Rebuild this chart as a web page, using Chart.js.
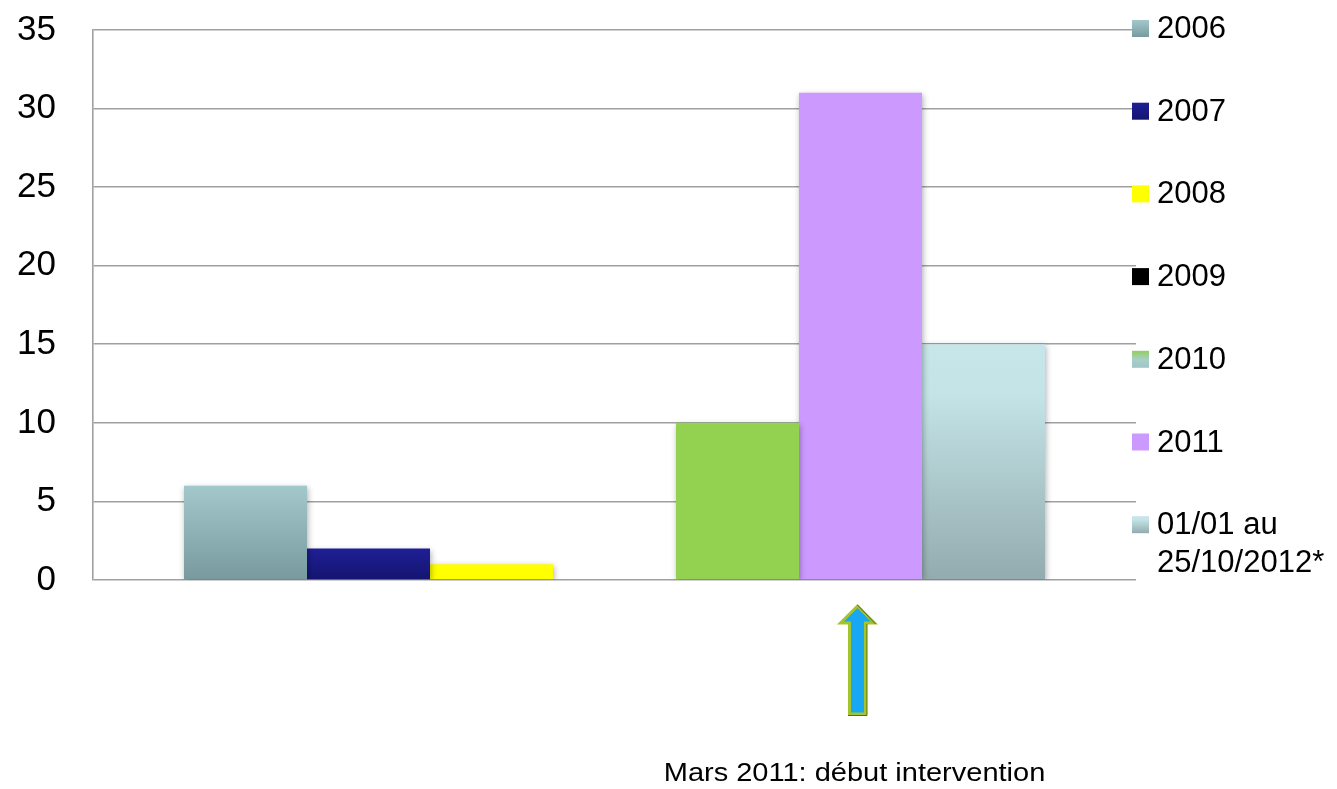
<!DOCTYPE html>
<html>
<head>
<meta charset="utf-8">
<script src="https://cdn.jsdelivr.net/npm/chart.js@4"></script>
<style>
  html, body { margin: 0; padding: 0; background: #ffffff; }
  #wrap { width: 1337px; height: 789px; position: relative; }
</style>
</head>
<body>
<div id="wrap"><canvas id="chart" width="1337" height="789"></canvas></div>
<script>
// ---- data ----
const categories = [''];
const seriesLabels = ['2006', '2007', '2008', '2009', '2010', '2011', ['01/01 au', '25/10/2012*']];
const values2006 = [6];
const values2007 = [2];
const values2008 = [1];
const values2009 = [0];
const values2010 = [10];
const values2011 = [31];
const values2012 = [15];
const yTickValues = [0, 5, 10, 15, 20, 25, 30, 35];
const noteText = 'Mars 2011: début intervention';
const markedSeries = 5; // the arrow points at the 2011 bar

// ---- styles ----
const FONT = '"Liberation Sans", Arial, sans-serif';
const barStops = [
  [[0, '#a3c8cc'], [1, '#789a9e']],
  [[0, '#1f1f96'], [1, '#141470']],
  [[0, '#ffff00'], [1, '#ffff00']],
  [[0, '#000000'], [1, '#000000']],
  [[0, '#93d150'], [1, '#93d150']],
  [[0, '#cc99ff'], [1, '#cc99ff']],
  [[0, '#c6e6e9'], [0.22, '#c3e3e6'], [1, '#93abae']]
];
const swatchStops = barStops.map((s, i) => i === 4
  ? [[0, '#8fd05a'], [0.5, '#a8cfc6'], [1, '#a0c4ca']]
  : s);

function gradient(ctx, top, bottom, stops) {
  if (!(bottom > top)) bottom = top + 1;
  const g = ctx.createLinearGradient(0, top, 0, bottom);
  stops.forEach(([o, c]) => g.addColorStop(o, c));
  return g;
}

function barFill(i) {
  return (c) => {
    const chart = c.chart;
    const y = chart.scales && chart.scales.y;
    if (!chart.chartArea || !y || c.raw === undefined) return barStops[i][0][1];
    const top = y.getPixelForValue(c.raw);
    const bottom = y.getPixelForValue(0);
    return gradient(chart.ctx, top, bottom, barStops[i]);
  };
}

const seriesData = [values2006, values2007, values2008, values2009, values2010, values2011, values2012];

const datasets = seriesData.map((vals, i) => ({
  label: seriesLabels[i],
  data: vals,
  backgroundColor: barFill(i),
  borderWidth: 0,
  categoryPercentage: 0.8255,
  barPercentage: 1.0
}));

// soft drop shadow under the bars
const barShadow = {
  id: 'barShadow',
  beforeDatasetsDraw(chart) {
    const ctx = chart.ctx;
    ctx.save();
    ctx.shadowColor = 'rgba(0,0,0,0.32)';
    ctx.shadowBlur = 6;
    ctx.shadowOffsetX = 1;
    ctx.shadowOffsetY = 2;
  },
  afterDatasetsDraw(chart) {
    chart.ctx.restore();
  }
};

// legend column at the right edge of the plot
const sideLegend = {
  id: 'sideLegend',
  afterDraw(chart) {
    const ctx = chart.ctx;
    const area = chart.chartArea;
    const boxX = area.right - 4;
    const box = 17;
    const firstY = 28.5;
    const step = 82.7;
    ctx.save();
    ctx.font = '31px ' + FONT;
    ctx.fillStyle = '#000000';
    ctx.textBaseline = 'middle';
    ctx.textAlign = 'left';
    chart.data.datasets.forEach((ds, i) => {
      const cy = firstY + i * step;
      ctx.fillStyle = gradient(ctx, cy - box / 2, cy + box / 2, swatchStops[i]);
      ctx.fillRect(boxX, cy - box / 2, box, box);
      ctx.fillStyle = '#000000';
      const lines = Array.isArray(ds.label) ? ds.label : [ds.label];
      lines.forEach((t, k) => ctx.fillText(t, boxX + 25, cy + 1 + k * 38));
    });
    ctx.restore();
  }
};

// arrow and caption under the marked bar
const noteArrow = {
  id: 'noteArrow',
  afterDraw(chart) {
    const el = chart.getDatasetMeta(markedSeries).data[0];
    if (!el) return;
    const ctx = chart.ctx;
    const cx = el.x - 3;
    const tip = 606, headBase = 623, bottom = 714;
    const hw = 17, sw = 8;
    ctx.save();
    ctx.beginPath();
    ctx.moveTo(cx, tip);
    ctx.lineTo(cx + hw, headBase);
    ctx.lineTo(cx + sw, headBase);
    ctx.lineTo(cx + sw, bottom);
    ctx.lineTo(cx - sw, bottom);
    ctx.lineTo(cx - sw, headBase);
    ctx.lineTo(cx - hw, headBase);
    ctx.closePath();
    ctx.fillStyle = '#18a8f3';
    ctx.fill();
    ctx.lineJoin = 'miter';
    ctx.lineWidth = 3;
    ctx.strokeStyle = '#a2c52e';
    ctx.stroke();
    ctx.lineWidth = 1;
    ctx.strokeStyle = '#5d6b12';
    ctx.beginPath();
    ctx.moveTo(cx, tip - 1);
    ctx.lineTo(cx + hw + 1, headBase + 1);
    ctx.moveTo(cx + sw + 1.5, headBase + 1);
    ctx.lineTo(cx + sw + 1.5, bottom + 1.5);
    ctx.lineTo(cx - sw - 1.5, bottom + 1.5);
    ctx.stroke();

    ctx.fillStyle = '#000000';
    ctx.font = '25px ' + FONT;
    ctx.textAlign = 'center';
    ctx.textBaseline = 'alphabetic';
    ctx.translate(cx - 3, 781);
    ctx.scale(1.16, 1);
    ctx.fillText(noteText, 0, 0);
    ctx.restore();
  }
};

new Chart(document.getElementById('chart'), {
  type: 'bar',
  data: { labels: categories, datasets },
  options: {
    responsive: false,
    animation: false,
    layout: { padding: { left: 17, top: 30, right: 201, bottom: 209 } },
    plugins: {
      legend: { display: false },
      tooltip: { enabled: false }
    },
    scales: {
      x: { display: false },
      y: {
        min: 0,
        max: 35,
        afterBuildTicks: (s) => { s.ticks = yTickValues.map(v => ({ value: v })); },
        afterFit: (s) => { s.width = 76; s.paddingTop = 0; s.paddingBottom = 0; },
        ticks: {
          color: '#000000',
          font: { family: FONT, size: 35 },
          padding: 37
        },
        grid: { color: '#a0a0a0', lineWidth: 1.6, drawTicks: false },
        border: { display: true, color: '#a0a0a0', width: 1.6 }
      }
    }
  },
  plugins: [barShadow, sideLegend, noteArrow]
});
</script>
</body>
</html>
